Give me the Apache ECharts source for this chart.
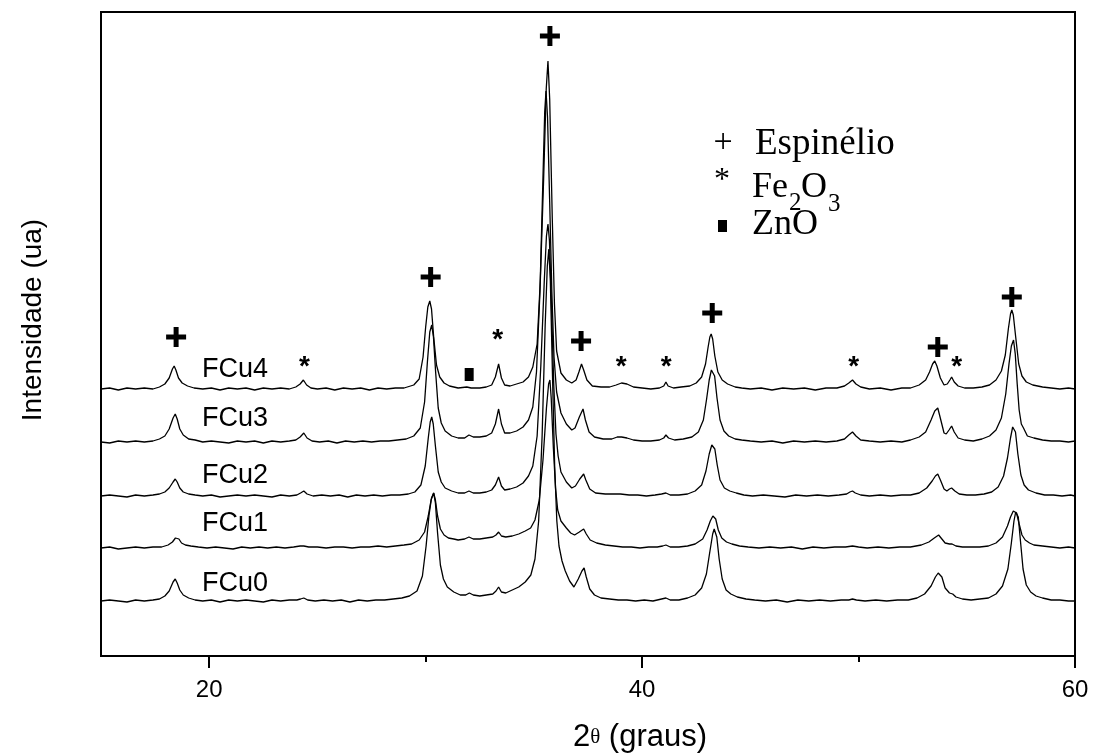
<!DOCTYPE html>
<html>
<head>
<meta charset="utf-8">
<script src="https://cdn.jsdelivr.net/npm/echarts@6/dist/echarts.min.js"></script>
<style>
html,body{margin:0;padding:0;background:#fff;}
#chart{width:1096px;height:755px;}
</style>
</head>
<body>
<div id="chart"></div>
<script>
// ---- Data (2θ in degrees, intensity above each trace's own baseline, arbitrary units) ----
const sampleNames = ['FCu4', 'FCu3', 'FCu2', 'FCu1', 'FCu0'];
const baselineOffsets = [267, 214, 160, 108, 55];

const fcu4 = [[15,0],[15.4,1],[15.8,-1],[16.2,1],[16.6,0],[17,1],[17.4,0],[17.7,2],[17.95,5],[18.15,11],[18.3,20],[18.38,23],[18.46,19],[18.58,11],[18.75,6],[19.0,3],[19.3,1],[19.7,0],[20.1,1],[20.5,-1],[20.9,1],[21.3,0],[21.7,1],[22.1,-1],[22.5,1],[22.9,0],[23.3,1],[23.7,0],[24.0,2],[24.2,5],[24.35,9],[24.5,4],[24.7,1],[25.0,0],[25.4,1],[25.8,-1],[26.2,1],[26.6,0],[27.0,1],[27.4,-1],[27.8,1],[28.2,0],[28.6,1],[29.0,1],[29.45,4],[29.7,10],[29.88,32],[30.0,62],[30.1,82],[30.19,88],[30.27,80],[30.37,52],[30.5,24],[30.65,12],[30.85,6],[31.1,3],[31.5,1],[31.9,2],[32.1,1],[32.5,1],[32.8,2],[33.05,4],[33.22,12],[33.37,25],[33.5,11],[33.65,4],[33.9,3],[34.2,5],[34.5,7],[34.75,12],[34.95,22],[35.15,45],[35.3,110],[35.45,210],[35.57,300],[35.65,328],[35.73,290],[35.85,170],[35.95,85],[36.05,38],[36.25,16],[36.5,9],[36.75,6],[36.95,9],[37.08,17],[37.2,25],[37.3,19],[37.45,9],[37.7,3],[38.1,2],[38.5,2],[38.8,4],[39.05,6],[39.3,5],[39.6,2],[40.0,1],[40.4,0],[40.8,1],[41.0,3],[41.1,7],[41.2,3],[41.45,1],[41.8,2],[42.2,3],[42.5,6],[42.75,12],[42.93,25],[43.05,42],[43.13,52],[43.19,55],[43.26,50],[43.36,33],[43.5,17],[43.7,9],[43.95,5],[44.3,2],[44.6,1],[45.0,0],[45.5,1],[46.0,-1],[46.5,1],[47.0,0],[47.5,1],[48.0,-1],[48.5,1],[49.0,1],[49.35,3],[49.55,6],[49.72,9],[49.88,5],[50.1,2],[50.5,0],[51.0,1],[51.5,-1],[52.0,1],[52.4,1],[52.8,4],[53.1,9],[53.28,17],[53.42,25],[53.52,28],[53.62,23],[53.78,11],[53.95,4],[54.1,5],[54.22,9],[54.3,12],[54.42,7],[54.6,3],[54.9,1],[55.3,1],[55.7,2],[56.05,4],[56.35,9],[56.6,18],[56.78,34],[56.92,60],[57.02,75],[57.08,79],[57.15,74],[57.26,52],[57.4,25],[57.55,13],[57.75,7],[58.05,4],[58.5,2],[58.9,1],[59.3,0],[59.7,1],[60,0]];

const fcu3 = [[15,0],[15.4,-1],[15.8,1],[16.2,0],[16.6,1],[17,0],[17.4,1],[17.7,3],[17.95,6],[18.15,13],[18.33,24],[18.43,28],[18.52,23],[18.64,13],[18.8,7],[19.05,3],[19.35,2],[19.7,0],[20.1,1],[20.5,0],[20.9,-1],[21.3,1],[21.7,0],[22.1,1],[22.5,-1],[22.9,1],[23.3,0],[23.7,1],[24.0,2],[24.2,5],[24.37,9],[24.52,4],[24.75,1],[25.1,0],[25.5,1],[25.9,-1],[26.3,1],[26.7,0],[27.1,1],[27.5,0],[27.9,1],[28.3,1],[28.7,2],[29.1,3],[29.45,6],[29.75,14],[29.95,40],[30.08,80],[30.19,110],[30.28,117],[30.36,105],[30.46,70],[30.58,34],[30.72,19],[30.9,11],[31.2,6],[31.5,4],[31.8,4],[32.0,7],[32.2,5],[32.5,5],[32.8,6],[33.05,9],[33.22,18],[33.37,33],[33.5,18],[33.65,9],[33.9,9],[34.2,11],[34.5,15],[34.75,22],[34.95,35],[35.12,70],[35.28,150],[35.42,265],[35.5,330],[35.56,351],[35.63,325],[35.73,240],[35.83,150],[35.93,85],[36.05,50],[36.25,29],[36.5,18],[36.75,12],[36.9,14],[37.1,25],[37.27,33],[37.38,22],[37.55,10],[37.8,5],[38.2,3],[38.6,3],[38.85,5],[39.05,5],[39.3,4],[39.6,2],[40.0,1],[40.4,1],[40.8,2],[41.0,4],[41.1,7],[41.22,4],[41.5,2],[41.9,3],[42.3,5],[42.6,10],[42.83,22],[42.98,43],[43.1,62],[43.2,72],[43.27,74],[43.35,66],[43.46,44],[43.6,22],[43.78,11],[44.0,6],[44.3,3],[44.6,2],[45.0,1],[45.5,0],[46.0,1],[46.5,-1],[47.0,1],[47.5,0],[48.0,1],[48.5,0],[49.0,1],[49.35,3],[49.55,7],[49.72,10],[49.88,6],[50.1,2],[50.5,1],[51.0,0],[51.5,1],[52.0,0],[52.4,2],[52.8,5],[53.1,10],[53.35,22],[53.52,31],[53.66,34],[53.8,22],[53.95,9],[54.05,8],[54.18,12],[54.3,16],[54.42,10],[54.6,4],[54.9,2],[55.3,1],[55.7,3],[56.05,6],[56.35,12],[56.6,24],[56.8,48],[56.95,78],[57.06,96],[57.16,102],[57.24,88],[57.33,58],[57.42,32],[57.52,18],[57.62,14],[57.8,6],[58.1,4],[58.5,2],[58.9,1],[59.3,1],[59.7,0],[60,1]];

const fcu2 = [[15,0],[15.4,1],[15.8,0],[16.2,-1],[16.6,1],[17,0],[17.4,1],[17.7,2],[17.95,4],[18.15,8],[18.33,14],[18.43,17],[18.52,14],[18.64,8],[18.8,4],[19.05,2],[19.35,1],[19.7,0],[20.1,1],[20.5,-1],[20.9,0],[21.3,1],[21.7,0],[22.1,1],[22.5,0],[22.9,-1],[23.3,1],[23.7,0],[24.05,1],[24.22,3],[24.37,5],[24.52,2],[24.8,0],[25.2,1],[25.6,0],[26.0,1],[26.4,-1],[26.8,1],[27.2,0],[27.6,1],[28.0,0],[28.4,1],[28.8,1],[29.2,2],[29.5,4],[29.78,11],[29.98,30],[30.12,58],[30.21,74],[30.28,79],[30.35,72],[30.45,50],[30.58,24],[30.72,14],[30.9,8],[31.2,5],[31.5,3],[31.8,3],[32.0,5],[32.2,3],[32.5,3],[32.8,4],[33.05,6],[33.22,11],[33.37,19],[33.5,10],[33.65,6],[33.9,7],[34.2,9],[34.5,13],[34.75,20],[34.95,30],[35.15,60],[35.32,130],[35.48,215],[35.58,260],[35.65,272],[35.72,255],[35.82,185],[35.92,110],[36.02,62],[36.12,40],[36.25,24],[36.5,14],[36.75,8],[36.92,10],[37.12,17],[37.3,22],[37.4,16],[37.58,7],[37.85,3],[38.3,2],[38.7,2],[39.0,2],[39.4,1],[39.8,1],[40.2,0],[40.6,1],[40.9,2],[41.1,3],[41.3,1],[41.7,1],[42.1,2],[42.45,5],[42.75,11],[42.95,25],[43.1,42],[43.22,51],[43.29,53],[43.36,47],[43.47,31],[43.6,16],[43.8,8],[44.05,5],[44.35,3],[44.7,1],[45.1,0],[45.6,1],[46.1,0],[46.6,-1],[47.1,1],[47.6,0],[48.1,1],[48.6,0],[49.1,1],[49.45,2],[49.6,4],[49.72,5],[49.85,3],[50.1,1],[50.5,0],[51.0,1],[51.5,0],[52.0,1],[52.4,1],[52.8,3],[53.15,8],[53.4,15],[53.55,20],[53.66,22],[53.8,15],[53.95,7],[54.08,5],[54.2,7],[54.3,8],[54.45,5],[54.65,2],[55.0,1],[55.4,1],[55.8,2],[56.15,4],[56.45,9],[56.7,20],[56.88,38],[57.02,58],[57.12,69],[57.18,71],[57.25,64],[57.36,42],[57.5,21],[57.65,11],[57.85,6],[58.2,3],[58.6,1],[59.0,1],[59.4,0],[59.8,1],[60,0]];

const fcu1 = [[15,0],[15.4,1],[15.8,-1],[16.2,0],[16.6,1],[17,0],[17.4,1],[17.8,1],[18.1,3],[18.3,6],[18.44,10],[18.52,12],[18.6,9],[18.72,5],[18.9,3],[19.15,2],[19.5,1],[19.9,0],[20.3,1],[20.7,0],[21.1,-1],[21.5,1],[21.9,0],[22.3,1],[22.7,0],[23.1,1],[23.5,0],[23.9,1],[24.2,2],[24.37,2],[24.6,1],[25.0,1],[25.4,0],[25.8,1],[26.2,1],[26.6,0],[27.0,1],[27.4,1],[27.8,2],[28.2,1],[28.6,2],[29.0,3],[29.35,4],[29.7,8],[29.95,16],[30.12,32],[30.25,48],[30.37,55],[30.45,48],[30.55,32],[30.68,19],[30.85,13],[31.05,10],[31.3,9],[31.5,8],[31.8,9],[32.0,11],[32.2,9],[32.5,9],[32.8,10],[33.1,11],[33.25,13],[33.37,16],[33.5,12],[33.7,11],[34.0,12],[34.3,14],[34.6,17],[34.85,20],[35.05,28],[35.25,48],[35.42,88],[35.58,140],[35.68,164],[35.74,168],[35.8,150],[35.9,100],[36.0,60],[36.1,38],[36.25,27],[36.5,20],[36.7,15],[36.88,13],[37.1,16],[37.3,19],[37.42,14],[37.6,8],[37.9,5],[38.3,3],[38.7,2],[39.1,1],[39.5,1],[39.9,0],[40.3,1],[40.7,1],[40.95,2],[41.1,3],[41.3,1],[41.7,1],[42.1,2],[42.45,4],[42.8,9],[43.0,18],[43.15,27],[43.27,32],[43.33,33],[43.4,29],[43.52,18],[43.68,10],[43.9,6],[44.15,4],[44.5,2],[44.9,1],[45.4,0],[45.9,1],[46.4,0],[46.9,1],[47.4,-1],[47.9,1],[48.4,0],[48.9,1],[49.4,1],[49.72,2],[50.0,1],[50.4,0],[50.9,1],[51.4,0],[51.9,1],[52.4,1],[52.9,3],[53.25,6],[53.5,10],[53.7,13],[53.85,9],[54.0,5],[54.2,4],[54.32,4],[54.5,2],[54.8,1],[55.2,1],[55.6,1],[56.0,2],[56.35,5],[56.65,11],[56.88,22],[57.02,31],[57.15,37],[57.23,38],[57.3,35],[57.42,24],[57.55,13],[57.7,8],[57.9,5],[58.1,3],[58.5,2],[58.9,1],[59.3,0],[59.7,1],[60,0]];

const fcu0 = [[15,0],[15.4,1],[15.8,0],[16.2,-1],[16.6,1],[17,0],[17.4,1],[17.7,2],[17.95,5],[18.15,10],[18.33,19],[18.43,22],[18.52,18],[18.64,11],[18.8,6],[19.05,3],[19.35,1],[19.7,0],[20.1,1],[20.5,-1],[20.9,1],[21.3,0],[21.7,1],[22.1,0],[22.5,-1],[22.9,1],[23.3,0],[23.7,1],[24.05,1],[24.22,2],[24.37,3],[24.55,1],[24.9,0],[25.3,1],[25.7,0],[26.1,1],[26.5,-1],[26.9,1],[27.3,0],[27.7,1],[28.1,1],[28.5,2],[28.9,3],[29.25,5],[29.6,10],[29.85,25],[30.02,55],[30.15,85],[30.27,103],[30.37,108],[30.45,98],[30.55,68],[30.68,36],[30.82,22],[31.0,14],[31.3,9],[31.6,6],[31.85,6],[32.02,8],[32.2,6],[32.5,5],[32.8,6],[33.1,7],[33.25,10],[33.37,14],[33.5,9],[33.7,8],[34.0,11],[34.3,14],[34.6,19],[34.86,26],[35.05,42],[35.22,80],[35.38,165],[35.52,275],[35.62,335],[35.69,352],[35.76,320],[35.86,225],[35.96,135],[36.06,80],[36.16,55],[36.3,40],[36.45,30],[36.65,20],[36.85,14],[37.05,22],[37.22,30],[37.32,33],[37.42,24],[37.58,12],[37.8,6],[38.1,3],[38.5,2],[38.9,1],[39.3,1],[39.7,0],[40.1,1],[40.5,0],[40.9,2],[41.1,3],[41.3,1],[41.7,1],[42.1,3],[42.45,6],[42.75,13],[42.97,27],[43.12,48],[43.26,67],[43.33,72],[43.38,73],[43.45,64],[43.56,42],[43.7,22],[43.88,11],[44.1,7],[44.4,4],[44.8,2],[45.2,1],[45.7,0],[46.2,1],[46.7,-1],[47.2,1],[47.7,0],[48.2,1],[48.7,0],[49.2,1],[49.55,1],[49.72,2],[49.9,1],[50.3,0],[50.8,1],[51.3,0],[51.8,1],[52.3,1],[52.7,3],[53.05,7],[53.35,15],[53.55,24],[53.68,28],[53.75,29],[53.85,24],[54.0,13],[54.2,8],[54.35,7],[54.5,4],[54.8,2],[55.2,1],[55.6,2],[56.0,3],[56.35,7],[56.65,15],[56.9,32],[57.06,58],[57.18,80],[57.26,89],[57.31,91],[57.38,84],[57.48,60],[57.6,32],[57.75,16],[57.95,9],[58.2,5],[58.5,3],[58.9,1],[59.3,1],[59.7,0],[60,0]];

// Phase markers (2θ, plotted intensity)
const spinelMarks = [[18.47,319],[30.23,379],[35.74,620],[37.18,315],[43.24,343],[53.66,309],[57.08,359]];
const fe2o3Marks = [[24.40,296],[33.33,323],[39.03,296],[41.11,296],[49.77,296],[54.54,296]];
const znoMarks = [[32.01,281.5]];

const majorTicks = [20, 40, 60];
const minorTicks = [30, 50];

// ---- Chart ----
const traces = [fcu4, fcu3, fcu2, fcu1, fcu0];
const chart = echarts.init(document.getElementById('chart'), null, {renderer: 'canvas'});

const lineSeries = traces.map((t, i) => ({
  name: sampleNames[i],
  type: 'line',
  xAxisIndex: 0,
  data: t.map(p => [p[0], p[1] + baselineOffsets[i]]),
  showSymbol: false,
  symbol: 'none',
  smooth: false,
  lineStyle: {color: '#000', width: 1.3},
  z: 3
}));

const plusSeries = {
  type: 'custom',
  xAxisIndex: 0,
  data: spinelMarks,
  clip: false,
  z: 5,
  renderItem: function (params, api) {
    const p = api.coord([api.value(0), api.value(1)]);
    return {
      type: 'group',
      children: [
        {type: 'rect', shape: {x: p[0] - 10, y: p[1] - 2.5, width: 20, height: 5}, style: {fill: '#000'}},
        {type: 'rect', shape: {x: p[0] - 2.5, y: p[1] - 10, width: 5, height: 20}, style: {fill: '#000'}}
      ]
    };
  }
};

const starSeries = {
  type: 'custom',
  xAxisIndex: 0,
  data: fe2o3Marks,
  clip: false,
  z: 5,
  renderItem: function (params, api) {
    const p = api.coord([api.value(0), api.value(1)]);
    return {
      type: 'text',
      x: p[0],
      y: p[1] + 7,
      style: {text: '*', fontSize: 28, fontWeight: 'bold', fontFamily: 'Liberation Sans, Arial, sans-serif', fill: '#000', align: 'center', verticalAlign: 'middle'}
    };
  }
};

const znoSeries = {
  type: 'custom',
  xAxisIndex: 0,
  data: znoMarks,
  clip: false,
  z: 5,
  renderItem: function (params, api) {
    const p = api.coord([api.value(0), api.value(1)]);
    return {type: 'rect', shape: {x: p[0] - 4.5, y: p[1] - 6.5, width: 9, height: 13}, style: {fill: '#000'}};
  }
};

const sansFont = 'Liberation Sans, Arial, sans-serif';
const serifFont = 'Liberation Serif, Times New Roman, serif';

const labelYs = [369.5, 419, 476, 524, 584];
const labelGraphics = sampleNames.map((n, i) => ({
  type: 'text', x: 202, y: labelYs[i],
  style: {text: n, fontSize: 27, fontFamily: sansFont, fill: '#000', align: 'left', verticalAlign: 'middle'}
}));

const option = {
  animation: false,
  backgroundColor: '#fff',
  grid: {left: 101, right: 21, top: 12, bottom: 99, show: true, borderColor: '#000', borderWidth: 2, backgroundColor: 'transparent'},
  xAxis: [
    {
      type: 'value', min: 15, max: 60, position: 'bottom',
      axisLine: {show: true, onZero: false, lineStyle: {color: '#000', width: 2}},
      axisTick: {show: true, length: 12, customValues: majorTicks, lineStyle: {color: '#000', width: 2}},
      axisLabel: {show: true, customValues: majorTicks, color: '#000', fontSize: 24, fontFamily: sansFont, margin: 22},
      splitLine: {show: false}
    },
    {
      type: 'value', min: 15, max: 60, position: 'bottom',
      axisLine: {show: false, onZero: false},
      axisTick: {show: true, length: 6, customValues: minorTicks, lineStyle: {color: '#000', width: 2}},
      axisLabel: {show: false},
      splitLine: {show: false}
    }
  ],
  yAxis: {
    type: 'value', min: 0, max: 644,
    axisLine: {show: false}, axisTick: {show: false}, axisLabel: {show: false}, splitLine: {show: false}
  },
  series: lineSeries.concat([plusSeries, starSeries, znoSeries]),
  graphic: [
    {type: 'text', x: 640, y: 737, style: {
      text: '{a|2}{t|θ}{a| (graus)}', align: 'center', verticalAlign: 'middle',
      rich: {a: {fontSize: 31, fontFamily: sansFont, fill: '#000'}, t: {fontSize: 21, fontFamily: serifFont, fill: '#000'}}
    }},
    {type: 'text', x: 33, y: 320, rotation: Math.PI / 2, style: {text: 'Intensidade (ua)', fontSize: 28, fontFamily: sansFont, fill: '#000', align: 'center', verticalAlign: 'middle'}},
    // legend
    {type: 'text', x: 723, y: 143, style: {text: '+', fontSize: 34, fontFamily: serifFont, fill: '#000', align: 'center', verticalAlign: 'middle'}},
    {type: 'text', x: 755, y: 144, style: {text: 'Espinélio', fontSize: 37, fontFamily: serifFont, fill: '#000', align: 'left', verticalAlign: 'middle'}},
    {type: 'text', x: 722, y: 181, style: {text: '*', fontSize: 32, fontFamily: serifFont, fill: '#000', align: 'center', verticalAlign: 'middle'}},
    {type: 'text', x: 752, y: 188, style: {text: 'Fe', fontSize: 36, fontFamily: serifFont, fill: '#000', align: 'left', verticalAlign: 'middle'}},
    {type: 'text', x: 789, y: 203, style: {text: '2', fontSize: 25, fontFamily: serifFont, fill: '#000', align: 'left', verticalAlign: 'middle'}},
    {type: 'text', x: 801, y: 188, style: {text: 'O', fontSize: 36, fontFamily: serifFont, fill: '#000', align: 'left', verticalAlign: 'middle'}},
    {type: 'text', x: 828, y: 204, style: {text: '3', fontSize: 25, fontFamily: serifFont, fill: '#000', align: 'left', verticalAlign: 'middle'}},
    {type: 'rect', shape: {x: 718, y: 220, width: 9, height: 12}, style: {fill: '#000'}},
    {type: 'text', x: 752, y: 225, style: {text: 'ZnO', fontSize: 36, fontFamily: serifFont, fill: '#000', align: 'left', verticalAlign: 'middle'}}
  ].concat(labelGraphics)
};
chart.setOption(option);
</script>
</body>
</html>
